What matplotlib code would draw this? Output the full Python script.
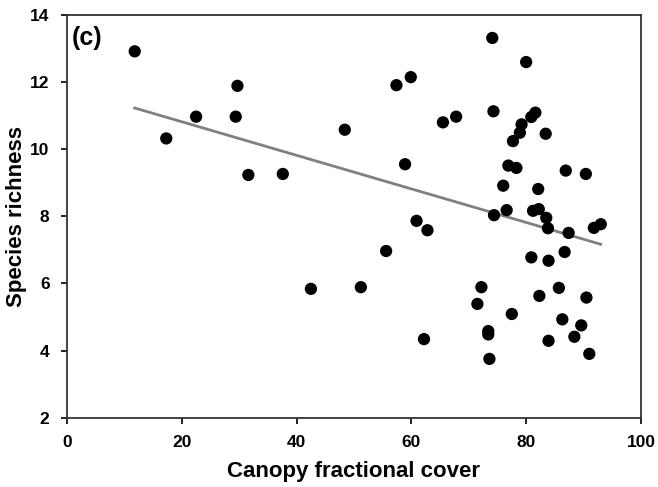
import numpy as np
import matplotlib
matplotlib.use("Agg")
import matplotlib.pyplot as plt

plt.rcParams["font.family"] = ["Liberation Sans", "DejaVu Sans"]
plt.rcParams["font.weight"] = "bold"

# canopy fractional cover (%) and species richness
cover = [11.8, 29.7, 22.5, 29.4, 17.3, 31.6, 37.6, 48.4,
         74.1, 80.0, 59.9, 57.4, 74.3, 81.6, 80.9, 67.8, 65.5, 79.2, 78.9, 83.4,
         77.7, 58.9, 76.9, 78.3, 86.9, 90.4, 76.0, 82.1,
         76.6, 74.4, 81.2, 82.2, 83.5, 83.8, 87.4, 91.8, 93.0, 60.9, 62.8,
         55.6, 80.9, 83.9, 86.7, 51.2, 72.2, 71.5, 82.3, 85.7, 90.5, 77.5,
         86.3, 89.6, 73.4, 73.4, 62.2, 83.9, 88.4, 91.0, 73.6, 42.5]
richness = [12.93, 11.90, 10.98, 10.98, 10.33, 9.24, 9.27, 10.59,
            13.33, 12.61, 12.16, 11.92, 11.14, 11.10, 10.97, 10.98, 10.81, 10.75, 10.50, 10.47,
            10.25, 9.56, 9.52, 9.45, 9.37, 9.27, 8.92, 8.82,
            8.19, 8.04, 8.17, 8.22, 7.96, 7.65, 7.51, 7.66, 7.77, 7.87, 7.59,
            6.97, 6.78, 6.68, 6.94, 5.89, 5.89, 5.39, 5.63, 5.87, 5.58, 5.09,
            4.93, 4.75, 4.58, 4.48, 4.34, 4.29, 4.41, 3.90, 3.75, 5.84]

# regression line as drawn (intercept, slope) and its x extent
fit_intercept = 11.83
fit_slope = -0.0501
fit_range = [11.8, 93.0]

x_ticks = [0, 20, 40, 60, 80, 100]
y_ticks = [2, 4, 6, 8, 10, 12, 14]

fig = plt.figure(figsize=(6.58, 4.87), dpi=100)
ax = fig.add_axes([0.1018, 0.1427, 0.8723, 0.8255])

xl = np.array(fit_range)
ax.plot(xl, fit_intercept + fit_slope * xl, color="#808080", lw=2, zorder=2)
ax.scatter(cover, richness, s=78, color="black", edgecolors="none", zorder=3)

ax.set_xlim(0, 100)
ax.set_ylim(2, 14)
ax.set_xticks(x_ticks)
ax.set_yticks(y_ticks)
ax.tick_params(direction="out", length=4.5, width=1.2, labelsize=12.5, colors="black", pad=8)
for lab in ax.get_xticklabels() + ax.get_yticklabels():
    lab.set_fontweight("bold")
for sp in ax.spines.values():
    sp.set_linewidth(1.3)
    sp.set_color("#333333")

ax.set_xlabel("Canopy fractional cover", fontsize=16, fontweight="bold", labelpad=8)
ax.set_ylabel("Species richness", fontsize=16, fontweight="bold", labelpad=2)
ax.text(0.008, 0.975, "(c)", transform=ax.transAxes, fontsize=18, fontweight="bold",
        ha="left", va="top")

fig.savefig("out.png", dpi=100)
